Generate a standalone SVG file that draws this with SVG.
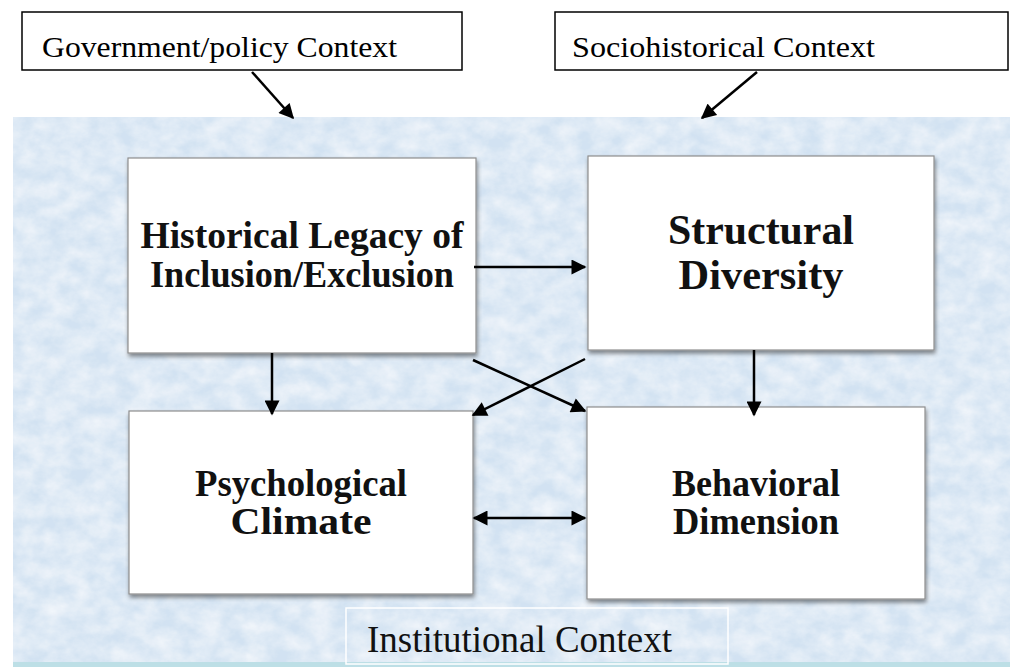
<svg xmlns="http://www.w3.org/2000/svg" width="1010" height="667" viewBox="0 0 1010 667">
  <defs>
    <style>
      .ctx { fill: #ffffff; stroke: #000000; stroke-width: 1.5; }
      .ctx-text { font-family: "Liberation Serif", "Times New Roman", serif; font-size: 29px; fill: #000000; }
      .node { fill: #ffffff; stroke: #8e8e8e; stroke-width: 1.2; filter: url(#shadow); }
      .label { font-family: "Liberation Serif", "Times New Roman", serif; font-weight: bold; fill: #111111; text-anchor: middle; }
      .inst { fill: none; stroke: #ffffff; stroke-width: 1.5; }
      .inst-text { font-family: "Liberation Serif", "Times New Roman", serif; font-size: 37px; fill: #111111; }
      .conn { stroke: #000000; stroke-width: 2.5; fill: none; }
    </style>
    <marker id="head" viewBox="0 0 10 10" refX="9" refY="5" markerWidth="6.6" markerHeight="6" orient="auto" markerUnits="strokeWidth">
      <path d="M0,0 L10,5 L0,10 Z" fill="#000000"/>
    </marker>
    <marker id="tail" viewBox="0 0 10 10" refX="1" refY="5" markerWidth="6.6" markerHeight="6" orient="auto" markerUnits="strokeWidth">
      <path d="M10,0 L0,5 L10,10 Z" fill="#000000"/>
    </marker>
    <filter id="shadow" x="-5%" y="-5%" width="112%" height="115%">
      <feGaussianBlur in="SourceAlpha" stdDeviation="2"/>
      <feOffset dx="1" dy="3" result="blur"/>
      <feComponentTransfer><feFuncA type="linear" slope="0.45"/></feComponentTransfer>
      <feMerge><feMergeNode/><feMergeNode in="SourceGraphic"/></feMerge>
    </filter>
    <!-- soft marbled paper texture for the institutional backdrop -->
    <filter id="marble" x="0" y="0" width="100%" height="100%">
      <feTurbulence type="fractalNoise" baseFrequency="0.045 0.06" numOctaves="5" seed="3" result="noise"/>
      <feColorMatrix in="noise" type="matrix"
        values="0 0 0 0 1
                0 0 0 0 1
                0 0 0 0 1
                0 0 0 -0.9 0.7" result="veins"/>
      <feComposite in="veins" in2="SourceGraphic" operator="in" result="clip"/>
      <feMerge><feMergeNode in="SourceGraphic"/><feMergeNode in="clip"/></feMerge>
    </filter>
  </defs>

  <rect width="1010" height="667" fill="#ffffff"/>

  <!-- institutional backdrop -->
  <g id="institutional-context">
    <rect x="13" y="117" width="997" height="550" fill="#d2e2f2" filter="url(#marble)"/>
    <rect x="13" y="662" width="997" height="5" fill="#bddfe6"/>
    <rect class="inst" x="346" y="608" width="382" height="56"/>
    <text class="inst-text" x="367" y="652" textLength="305" lengthAdjust="spacingAndGlyphs">Institutional Context</text>
  </g>

  <!-- outer context boxes -->
  <g id="government-policy-context">
    <rect class="ctx" x="22" y="12" width="440" height="58"/>
    <text class="ctx-text" x="42" y="57" textLength="355" lengthAdjust="spacingAndGlyphs">Government/policy Context</text>
  </g>
  <g id="sociohistorical-context">
    <rect class="ctx" x="555" y="12" width="453" height="58"/>
    <text class="ctx-text" x="572" y="57" textLength="303" lengthAdjust="spacingAndGlyphs">Sociohistorical Context</text>
  </g>

  <!-- core dimensions -->
  <g id="historical-legacy">
    <rect class="node" x="128" y="158" width="348" height="195"/>
    <text class="label" font-size="37" x="302" y="248" textLength="323" lengthAdjust="spacingAndGlyphs">Historical Legacy of</text>
    <text class="label" font-size="37" x="302" y="287" textLength="304" lengthAdjust="spacingAndGlyphs">Inclusion/Exclusion</text>
  </g>
  <g id="structural-diversity">
    <rect class="node" x="588" y="156" width="346" height="194"/>
    <text class="label" font-size="43" x="761" y="244" textLength="186" lengthAdjust="spacingAndGlyphs">Structural</text>
    <text class="label" font-size="43" x="761" y="289" textLength="165" lengthAdjust="spacingAndGlyphs">Diversity</text>
  </g>
  <g id="psychological-climate">
    <rect class="node" x="129" y="411" width="344" height="183"/>
    <text class="label" font-size="38" x="301" y="496" textLength="212" lengthAdjust="spacingAndGlyphs">Psychological</text>
    <text class="label" font-size="38" x="301" y="534" textLength="141" lengthAdjust="spacingAndGlyphs">Climate</text>
  </g>
  <g id="behavioral-dimension">
    <rect class="node" x="587" y="407" width="338" height="192"/>
    <text class="label" font-size="38" x="756" y="496" textLength="168" lengthAdjust="spacingAndGlyphs">Behavioral</text>
    <text class="label" font-size="38" x="756" y="534" textLength="166" lengthAdjust="spacingAndGlyphs">Dimension</text>
  </g>

  <!-- connectors -->
  <g id="connectors">
    <line class="conn" x1="252" y1="72" x2="293" y2="118" marker-end="url(#head)"/>
    <line class="conn" x1="757" y1="72" x2="702" y2="118" marker-end="url(#head)"/>
    <line class="conn" x1="474" y1="267" x2="585" y2="267" marker-end="url(#head)"/>
    <line class="conn" x1="272" y1="353" x2="272" y2="414" marker-end="url(#head)"/>
    <line class="conn" x1="754" y1="350" x2="754" y2="415" marker-end="url(#head)"/>
    <line class="conn" x1="473" y1="360" x2="585" y2="411" marker-end="url(#head)"/>
    <line class="conn" x1="585" y1="359" x2="473" y2="415" marker-end="url(#head)"/>
    <line class="conn" x1="474" y1="518" x2="585" y2="518" marker-start="url(#tail)" marker-end="url(#head)"/>
  </g>
</svg>
